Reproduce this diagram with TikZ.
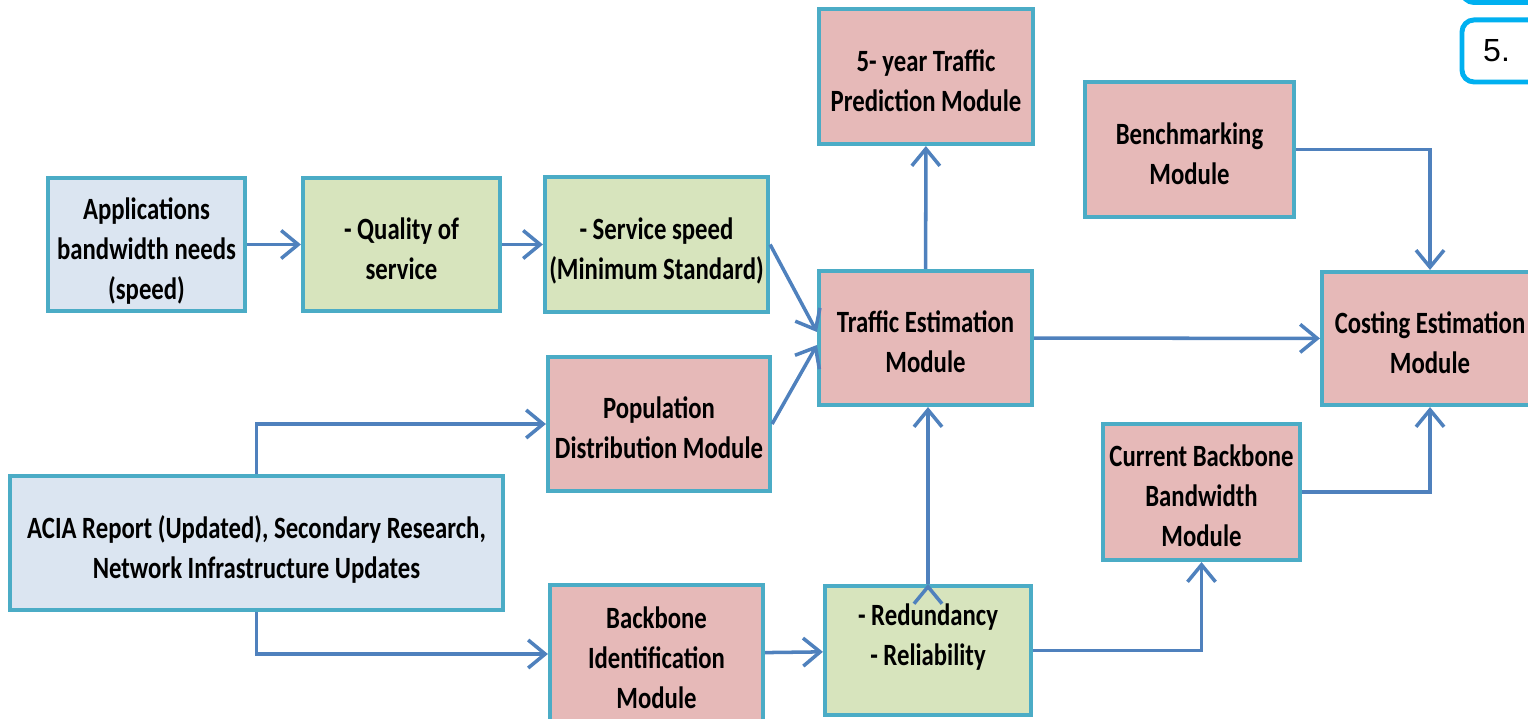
\documentclass[tikz,border=0pt]{standalone}
\usepackage{fontspec}
\setmainfont{Carlito}[FakeStretch=0.8]
\newfontfamily\tabfont{Liberation Sans}
\usetikzlibrary{arrows.meta,positioning}
\definecolor{boxline}{RGB}{75,172,198}
\definecolor{modfill}{RGB}{230,185,184}
\definecolor{qosfill}{RGB}{215,228,189}
\definecolor{srcfill}{RGB}{219,229,241}
\definecolor{flow}{RGB}{79,129,189}
\definecolor{tabline}{RGB}{0,176,240}

\begin{document}
\begin{tikzpicture}[x=0.01cm,y=-0.01cm,>={Straight Barb[length=1.7mm,width=2.8mm]},
  font=\fontsize{8.8}{11.4}\selectfont\bfseries]
  \tikzstyle{box}=[draw=boxline,line width=1.15pt,inner sep=0pt,align=center,text depth=0pt,
    execute at begin node={\lower2.3pt\hbox\bgroup},execute at end node={\egroup}]
  \tikzstyle{module}=[box,fill=modfill]
  \tikzstyle{factor}=[box,fill=qosfill]
  \tikzstyle{source}=[box,fill=srcfill]
  \tikzstyle{flowline}=[->,draw=flow,line width=1pt]
  \tikzstyle{tab}=[draw=tabline,line width=1.4pt,rounded corners=1.2mm,fill=white,
    minimum width=1.2cm,minimum height=0.62cm,inner sep=0pt]

  \path[use as bounding box,clip] (0,0) rectangle (1528,719);

  \node[source,minimum width=1.97cm,minimum height=1.33cm] (app) at (146.5,244.5) {Applications\\bandwidth needs\\(speed)};
  \node[factor,minimum width=1.97cm,minimum height=1.33cm] (qos) at (401.5,244.5) {- Quality of\\service};
  \node[factor,minimum width=2.23cm,minimum height=1.35cm] (svc) at (656.5,244.5) {- Service speed\\(Minimum Standard)};
  \node[module,minimum width=2.22cm,minimum height=1.34cm] (pop) at (659,424) {Population\\Distribution Module};
  \node[source,minimum width=4.93cm,minimum height=1.34cm] (acia) at (256.5,543) {ACIA Report (Updated), Secondary Research,\\Network Infrastructure Updates};
  \node[module,minimum width=2.13cm,minimum height=1.38cm] (bbid) at (656.5,654) {Backbone\\Identification\\Module};
  \node[factor,minimum width=2.06cm,minimum height=1.29cm] (red) at (928,650.5) {- Redundancy\\- Reliability\\~};
  \node[module,minimum width=2.13cm,minimum height=1.34cm] (traffic) at (925.5,338) {Traffic Estimation\\Module};
  \node[module,minimum width=2.14cm,minimum height=1.35cm] (pred) at (926,76.5) {5- year Traffic\\Prediction Module};
  \node[module,minimum width=2.09cm,minimum height=1.35cm] (bench) at (1189.5,149.5) {Benchmarking\\Module};
  \node[module,minimum width=1.97cm,minimum height=1.36cm] (cbb) at (1201.5,492) {Current Backbone\\Bandwidth\\Module};
  \node[module,minimum width=2.16cm,minimum height=1.33cm] (cost) at (1430,338.5) {Costing Estimation\\Module};

  \node[tab,anchor=south west] (tab4) at (1459.5,5) {};
  \node[tab,anchor=north west] (tab5) at (1459.5,17.5) {};
  \node[anchor=west,inner sep=0pt,font=\tabfont\fontsize{9.1}{11}\selectfont] (num5) at ([xshift=0.23cm]tab5.west) {5.};

  \path[flowline]
  (app) edge (qos)
  (qos) edge (svc)
  (svc.east) edge ([yshift=0.06cm]traffic.west)
  (pop.east) edge ([yshift=-0.07cm]traffic.west)
  (bbid) edge (red)
  (traffic) edge (pred)
  (traffic) edge (cost)
  (red.north) edge (red.north |- traffic.south);
  \draw[flowline] (acia.north) |- (pop);
  \draw[flowline] (acia.south) |- (bbid);
  \draw[flowline] (red) -| (cbb);
  \draw[flowline] (bench) -| (cost);
  \draw[flowline] (cbb) -| (cost);
\end{tikzpicture}
\end{document}
